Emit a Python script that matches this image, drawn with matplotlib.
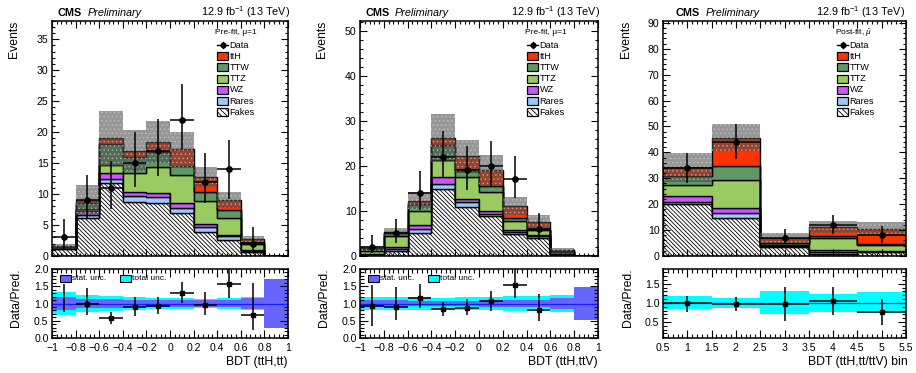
import numpy as np
import matplotlib
matplotlib.use('Agg')
import matplotlib.pyplot as plt
from matplotlib.patches import Rectangle
from matplotlib.lines import Line2D
from matplotlib.ticker import MultipleLocator, FuncFormatter

plt.rcParams['font.family'] = ['Liberation Sans', 'DejaVu Sans']
plt.rcParams['mathtext.fontset'] = 'custom'
plt.rcParams['mathtext.rm'] = 'Liberation Sans'
plt.rcParams['mathtext.it'] = 'Liberation Sans:italic'
plt.rcParams['hatch.linewidth'] = 0.6

# ---------------- data ----------------
process_names = ['Fakes', 'Rares', 'WZ', 'TTZ', 'TTW', 'ttH']   # bottom -> top
legend_order = ['ttH', 'TTW', 'TTZ', 'WZ', 'Rares', 'Fakes']

# panel 1: BDT (ttH,tt)
edges1 = [-1.0, -0.8, -0.6, -0.4, -0.2, 0.0, 0.2, 0.4, 0.6, 0.8, 1.0]
fakes1 = [1.2, 6.1, 11.8, 8.8, 8.6, 7.0, 3.9, 2.6, 0.7, 0.0]
rares1 = [0.1, 0.5, 0.6, 0.9, 1.0, 0.7, 0.8, 0.6, 0.15, 0.0]
wz1 = [0.05, 0.6, 1.0, 0.6, 0.5, 0.8, 0.5, 0.2, 0.1, 0.0]
ttz1 = [0.1, 0.4, 1.3, 3.1, 4.3, 4.6, 3.7, 2.8, 0.95, 0.0]
ttw1 = [0.05, 1.0, 3.4, 2.6, 2.4, 1.4, 1.4, 1.2, 0.3, 0.0]
tth1 = [0.05, 0.4, 0.9, 1.0, 1.6, 2.7, 2.4, 1.65, 0.5, 0.0]
unc1 = [0.45, 2.4, 4.4, 3.3, 3.4, 2.8, 1.6, 1.25, 0.5, 0.0]
data1 = [3, 9, 11, 15, 17, 22, 12, 14, 2, 0]
data1_lo = [1.2, 6.0, 7.6, 11.2, 13.0, 17.3, 8.6, 9.2, 0.7, 0]
data1_hi = [5.9, 13.1, 15.3, 20.0, 22.2, 27.7, 16.6, 18.8, 4.7, 0]
ratio1 = [np.nan, 0.99, 0.58, 0.89, 0.93, 1.30, 0.96, 1.56, 0.67, np.nan]
ratio1_lo = [0.75, 0.67, 0.41, 0.65, 0.70, 1.01, 0.67, 1.15, 0.24, np.nan]
ratio1_hi = [1.56, 1.44, 0.75, 1.18, 1.20, 1.62, 1.32, 2.0, 1.59, np.nan]
stat1 = [0.19, 0.14, 0.12, 0.10, 0.10, 0.09, 0.09, 0.11, 0.16, 0.72]
tot1 = [0.32, 0.24, 0.22, 0.19, 0.17, 0.16, 0.14, 0.16, 0.19, 0.72]

# panel 2: BDT (ttH,ttV)
edges2 = [-1.0, -0.8, -0.6, -0.4, -0.2, 0.0, 0.2, 0.4, 0.6, 0.8, 1.0]
fakes2 = [0.3, 1.0, 5.05, 14.9, 10.9, 8.9, 4.8, 4.1, 0.4, 0.0]
rares2 = [0.1, 0.5, 0.85, 1.1, 1.0, 0.5, 0.6, 0.35, 0.1, 0.0]
wz2 = [0.1, 0.5, 1.0, 1.5, 0.7, 0.6, 0.3, 0.15, 0.05, 0.0]
ttz2 = [0.5, 2.5, 3.0, 3.7, 5.0, 4.3, 2.1, 1.2, 0.25, 0.0]
ttw2 = [0.5, 0.7, 1.7, 3.5, 1.3, 1.3, 0.7, 0.3, 0.3, 0.0]
tth2 = [0.2, 0.2, 0.7, 1.5, 3.3, 3.4, 2.5, 1.5, 0.15, 0.0]
unc2 = [0.5, 0.9, 1.8, 5.4, 3.6, 3.3, 2.0, 1.5, 0.6, 0.0]
data2 = [2, 5, 14, 22, 19, 20, 17, 6, 0, 0]
data2_lo = [0.6, 2.9, 10.3, 17.3, 14.6, 15.5, 12.8, 3.5, 0, 0]
data2_hi = [4.7, 8.3, 18.8, 27.7, 24.4, 25.5, 22.2, 9.6, 0, 0]
ratio2 = [0.93, 0.89, 1.17, 0.85, 0.88, 1.08, 1.54, 0.80, np.nan, np.nan]
ratio2_lo = [0.34, 0.51, 0.87, 0.65, 0.67, 0.77, 1.17, 0.48, np.nan, np.nan]
ratio2_hi = [1.54, 1.47, 1.56, 1.04, 1.13, 1.37, 2.0, 1.27, np.nan, np.nan]
stat2 = [0.11, 0.09, 0.08, 0.08, 0.08, 0.09, 0.09, 0.11, 0.17, 0.47]
tot2 = [0.19, 0.18, 0.18, 0.17, 0.18, 0.20, 0.22, 0.23, 0.26, 0.47]

# panel 3: BDT (ttH,tt/ttV) bin
edges3 = [0.5, 1.5, 2.5, 3.5, 4.5, 5.5]
fakes3 = [20.0, 14.6, 3.5, 0.9, 1.7]
rares3 = [0.9, 1.9, 0.2, 0.7, 0.2]
wz3 = [2.3, 2.0, 0.1, 0.8, 0.2]
ttz3 = [4.3, 10.8, 0.5, 4.7, 2.2]
ttw3 = [3.5, 5.4, 0.7, 0.6, 0.3]
tth3 = [3.2, 10.9, 2.1, 3.6, 5.9]
unc3 = [5.6, 5.2, 1.9, 2.3, 2.8]
data3 = [34, 44, 7, 12, 8]
data3_lo = [28.1, 37.5, 4.8, 8.5, 5.0]
data3_hi = [39.8, 50.8, 10.5, 16.0, 11.5]
ratio3 = [0.99, 0.97, 0.97, 1.06, 0.77]
ratio3_lo = [0.76, 0.80, 0.52, 0.69, 0.43]
ratio3_hi = [1.19, 1.15, 1.41, 1.43, 1.10]
tot3_up = [0.17, 0.13, 0.30, 0.23, 0.28]
tot3_dn = [0.16, 0.13, 0.29, 0.23, 0.27]

colors = {'ttH': '#ff3300', 'TTW': '#5f9862', 'TTZ': '#9acb62',
          'WZ': '#cc55ff', 'Rares': '#9cc9f7', 'Fakes': 'white'}
FAKE_HATCH = '\\' * 8

# ---------------- figure ----------------
W, H = 916, 373
fig = plt.figure(figsize=(W / 100, H / 100), dpi=100)


def add_ax(x0, y0, x1, y1):
    return fig.add_axes([x0 / W, 1 - y1 / H, (x1 - x0) / W, (y1 - y0) / H])


def fmt_num(v, pos=None):
    s = f"{round(v, 3):g}"
    if s == '-0':
        s = '0'
    return s.replace('-', '\u2212')


def style_axis(ax, xmaj, xmin, ymaj, ymin):
    ax.xaxis.set_major_locator(MultipleLocator(xmaj))
    ax.xaxis.set_minor_locator(MultipleLocator(xmin))
    ax.yaxis.set_major_locator(MultipleLocator(ymaj))
    ax.yaxis.set_minor_locator(MultipleLocator(ymin))
    ax.tick_params(which='both', direction='in', top=True, right=True,
                   labelsize=7.6, width=0.8, pad=2.5)
    ax.tick_params(which='major', length=5)
    ax.tick_params(which='minor', length=2.5)
    for sp in ax.spines.values():
        sp.set_linewidth(1.1)
        sp.set_zorder(10)


def draw_main(ax, edges, comps, unc, data, dlo, dhi):
    edges = np.asarray(edges, float)
    base = np.zeros(len(edges) - 1)
    for name, vals in zip(process_names, comps):
        top = base + np.asarray(vals, float)
        if name == 'Fakes':
            ax.stairs(top, edges, baseline=base, fill=True, facecolor='white',
                      edgecolor='black', hatch=FAKE_HATCH, lw=1.0)
        else:
            ax.stairs(top, edges, baseline=base, fill=True, facecolor=colors[name],
                      edgecolor='black', lw=1.0)
        base = top
    total = base
    unc = np.asarray(unc, float)
    ax.stairs(total + unc, edges, baseline=total - unc, fill=True,
              facecolor=(0.30, 0.30, 0.30, 0.58), edgecolor='none', lw=0)
    ax.stairs(total + unc, edges, baseline=total - unc, fill=True,
              facecolor='none', edgecolor=(0.85, 0.85, 0.85, 0.5), lw=0, hatch='....')
    d = np.asarray(data, float)
    lo = np.asarray(dlo, float)
    hi = np.asarray(dhi, float)
    cen = 0.5 * (edges[1:] + edges[:-1])
    hw = 0.5 * (edges[1:] - edges[:-1])
    m = d > 0
    ax.errorbar(cen[m], d[m], yerr=[d[m] - lo[m], hi[m] - d[m]], xerr=hw[m],
                fmt='o', color='black', ms=3.8, elinewidth=1.1, capsize=0, zorder=5)


def draw_ratio(ax, edges, tot_up, tot_dn, stat, r, rlo, rhi, first_nomarker=False):
    edges = np.asarray(edges, float)
    tu = np.asarray(tot_up, float)
    td = np.asarray(tot_dn, float)
    ax.stairs(1 + tu, edges, baseline=1 - td, fill=True, facecolor='#00ffff', lw=0)
    if stat is not None:
        s = np.asarray(stat, float)
        ax.stairs(1 + s, edges, baseline=1 - s, fill=True, facecolor='#6666ff', lw=0)
    ax.axhline(1.0, color='#1a1aff', lw=0.9)
    cen = 0.5 * (edges[1:] + edges[:-1])
    hw = 0.5 * (edges[1:] - edges[:-1])
    r = np.asarray(r, float)
    rlo = np.asarray(rlo, float)
    rhi = np.asarray(rhi, float)
    m = ~np.isnan(r)
    ax.errorbar(cen[m], r[m], yerr=[r[m] - rlo[m], rhi[m] - r[m]], xerr=hw[m],
                fmt='s', color='black', ms=3.3, elinewidth=1.1, capsize=0, zorder=5)
    if first_nomarker:
        ax.vlines(cen[0], rlo[0], rhi[0], color='black', lw=1.1, zorder=5)


def main_legend(ax, header, ax_w_px, ax_h_px, x0_px, y0_px):
    bw, bh, dy = 11, 8, 11.2
    ax.text((x0_px - 2) / ax_w_px, 1 - y0_px / ax_h_px, header, transform=ax.transAxes,
            fontsize=6.0, ha='left', va='center')
    yy = y0_px + 12
    yc = 1 - yy / ax_h_px
    xa = x0_px / ax_w_px
    xb = (x0_px + bw) / ax_w_px
    ax.add_line(Line2D([xa, xb], [yc, yc], transform=ax.transAxes, color='black', lw=1.0))
    ax.add_line(Line2D([(xa + xb) / 2] * 2, [yc - 3.5 / ax_h_px, yc + 3.5 / ax_h_px],
                       transform=ax.transAxes, color='black', lw=1.0))
    ax.add_line(Line2D([(xa + xb) / 2], [yc], transform=ax.transAxes, marker='o',
                       ms=3.4, color='black'))
    ax.text((x0_px + bw + 1.5) / ax_w_px, yc, 'Data', transform=ax.transAxes,
            fontsize=6.6, ha='left', va='center')
    for i, name in enumerate(legend_order):
        yy = y0_px + 12 + (i + 1) * dy
        yc = 1 - yy / ax_h_px
        kw = dict(facecolor=colors[name], edgecolor='black', lw=0.9)
        if name == 'Fakes':
            kw['hatch'] = '\\' * 6
        ax.add_patch(Rectangle((xa, yc - bh / 2 / ax_h_px), bw / ax_w_px, bh / ax_h_px,
                               transform=ax.transAxes, **kw))
        ax.text((x0_px + bw + 1.5) / ax_w_px, yc, name, transform=ax.transAxes,
                fontsize=6.6, ha='left', va='center')


def ratio_legend(ax, ax_w_px, ax_h_px, x1_px, x2_px):
    bw, bh = 11, 7.5
    yc = 1 - 9.5 / ax_h_px
    for x, col, lab in [(x1_px, '#6666ff', 'stat. unc.'), (x2_px, '#00ffff', 'total unc.')]:
        ax.add_patch(Rectangle((x / ax_w_px, yc - bh / 2 / ax_h_px), bw / ax_w_px, bh / ax_h_px,
                               transform=ax.transAxes, facecolor=col, edgecolor='black',
                               lw=0.8, zorder=6))
        ax.text((x + bw + 1.5) / ax_w_px, yc, lab, transform=ax.transAxes, fontsize=6.0,
                ha='left', va='center', zorder=6)


panels = [
    dict(x0=52, x1=288, edges=edges1, comps=[fakes1, rares1, wz1, ttz1, ttw1, tth1],
         unc=unc1, data=data1, dlo=data1_lo, dhi=data1_hi, ylim=38.0, ymaj=5, ymin=1,
         xmaj=0.2, xmin=0.04, header='Pre-fit, \u03bc=1',
         r=ratio1, rlo=ratio1_lo, rhi=ratio1_hi, tu=tot1, td=tot1, stat=stat1,
         rylim=(0, 2.0), xlabel='BDT (ttH,tt)', xlab_right=288, cms=57, prelim=88,
         lumi_right=290, ylab_x=14, first_nomarker=True, legx=165),
    dict(x0=360, x1=598, edges=edges2, comps=[fakes2, rares2, wz2, ttz2, ttw2, tth2],
         unc=unc2, data=data2, dlo=data2_lo, dhi=data2_hi, ylim=52.2, ymaj=10, ymin=2,
         xmaj=0.2, xmin=0.04, header='Pre-fit, \u03bc=1',
         r=ratio2, rlo=ratio2_lo, rhi=ratio2_hi, tu=tot2, td=tot2, stat=stat2,
         rylim=(0, 2.0), xlabel='BDT (ttH,ttV)', xlab_right=598, cms=365, prelim=395,
         lumi_right=600, ylab_x=322, first_nomarker=False, legx=167),
    dict(x0=663, x1=906, edges=edges3, comps=[fakes3, rares3, wz3, ttz3, ttw3, tth3],
         unc=unc3, data=data3, dlo=data3_lo, dhi=data3_hi, ylim=90.8, ymaj=10, ymin=2,
         xmaj=0.5, xmin=0.1, header='Post-fit, $\\hat{\\mu}$',
         r=ratio3, rlo=ratio3_lo, rhi=ratio3_hi, tu=tot3_up, td=tot3_dn, stat=None,
         rylim=(0.08, 1.89), xlabel='BDT (ttH,tt/ttV) bin', xlab_right=908, cms=675,
         prelim=706, lumi_right=905, ylab_x=626, first_nomarker=False, legx=174),
]

MT, MB = 20.7, 256
RT, RB = 269, 338

for p in panels:
    axm = add_ax(p['x0'], MT, p['x1'], MB)
    axr = add_ax(p['x0'], RT, p['x1'], RB)
    draw_main(axm, p['edges'], p['comps'], p['unc'], p['data'], p['dlo'], p['dhi'])
    axm.set_xlim(p['edges'][0], p['edges'][-1])
    axm.set_ylim(0, p['ylim'])
    style_axis(axm, p['xmaj'], p['xmin'], p['ymaj'], p['ymin'])
    axm.tick_params(labelbottom=False)
    axm.yaxis.set_major_formatter(FuncFormatter(fmt_num))

    draw_ratio(axr, p['edges'], p['tu'], p['td'], p['stat'], p['r'], p['rlo'], p['rhi'],
               p['first_nomarker'])
    axr.set_xlim(p['edges'][0], p['edges'][-1])
    axr.set_ylim(*p['rylim'])
    style_axis(axr, p['xmaj'], p['xmin'], 0.5, 0.1)
    axr.tick_params(which='major', length=6)
    axr.tick_params(which='minor', length=3)
    axr.tick_params(axis='x', pad=3.5)
    axr.xaxis.set_major_formatter(FuncFormatter(fmt_num))
    axr.yaxis.set_major_formatter(FuncFormatter(lambda v, pos: f"{v:.1f}"))

    aw = p['x1'] - p['x0']
    ah = MB - MT
    main_legend(axm, p['header'], aw, ah, p['legx'], 12.3)
    if p['stat'] is not None:
        ratio_legend(axr, aw, RB - RT, 8, 68)

    fig.text(p['cms'] / W, 1 - 15.5 / H, 'CMS', fontsize=7.8, fontweight='bold',
             ha='left', va='baseline')
    fig.text(p['prelim'] / W, 1 - 15.5 / H, 'Preliminary', fontsize=7.8, style='italic',
             ha='left', va='baseline')
    fig.text(p['lumi_right'] / W, 1 - 15.5 / H, '12.9 fb$^{-1}$ (13 TeV)', fontsize=7.8,
             ha='right', va='baseline')
    fig.text(p['ylab_x'] / W, 1 - MT / H, 'Events', fontsize=8.8, rotation=90,
             ha='center', va='top')
    fig.text((p['ylab_x'] + 2) / W, 1 - (RT - 1) / H, 'Data/Pred.', fontsize=8.8,
             rotation=90, ha='center', va='top')
    fig.text(p['xlab_right'] / W, 1 - 362 / H, p['xlabel'], fontsize=8.8,
             ha='right', va='center')

fig.savefig('out.png', dpi=100)
